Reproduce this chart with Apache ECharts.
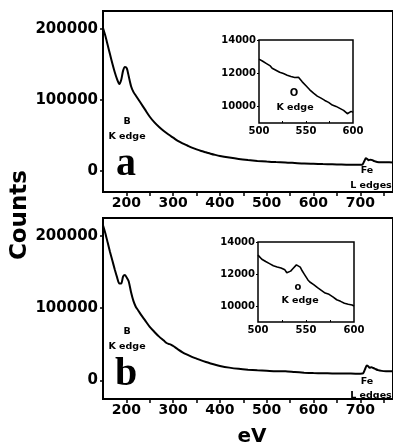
<!DOCTYPE html>
<html>
<head>
<meta charset="utf-8">
<script src="https://cdn.jsdelivr.net/npm/echarts@6/dist/echarts.min.js"></script>
<style>
  html, body { margin: 0; padding: 0; background: #fff; }
  #chart { width: 393px; height: 448px; }
</style>
</head>
<body>
<div id="chart"></div>
<script>
// panel a, full spectrum
const eVA = [150, 155, 160, 165, 170, 175, 180, 185, 189, 193, 197, 201, 205, 210, 215, 220, 225, 230, 240, 250, 260, 270, 280, 290, 300, 310, 320, 330, 340, 350, 360, 370, 380, 390, 400, 420, 440, 460, 480, 500, 520, 540, 560, 580, 600, 620, 640, 660, 680, 700, 705, 709, 712, 715, 718, 722, 726, 730, 736, 745, 755, 770];
const countsA = [201000, 190000, 177000, 164000, 151000, 139000, 129000, 122000, 128000, 141000, 146000, 144000, 133000, 119000, 111000, 106000, 101000, 96000, 86000, 76000, 68000, 61500, 56000, 51000, 46500, 42000, 38500, 35500, 32500, 30000, 27800, 25900, 24000, 22300, 20800, 18500, 16500, 15000, 13800, 12800, 12100, 11700, 10900, 10100, 9700, 9300, 9000, 8700, 8400, 8300, 8800, 14000, 17500, 16500, 14800, 15600, 15000, 13400, 12400, 11900, 11800, 11700];

// panel b, full spectrum
const eVB = [150, 155, 160, 165, 170, 175, 180, 185, 189, 193, 197, 201, 205, 210, 215, 220, 225, 230, 240, 250, 260, 270, 280, 285, 290, 295, 300, 310, 320, 330, 340, 350, 360, 370, 380, 390, 400, 420, 440, 460, 480, 500, 520, 540, 560, 580, 600, 620, 640, 660, 680, 700, 706, 710, 714, 717, 720, 724, 728, 732, 738, 746, 755, 770];
const countsB = [215000, 204000, 191000, 178000, 166000, 154000, 143000, 134000, 134000, 144000, 146000, 142000, 137000, 122000, 110000, 102000, 97000, 92000, 83000, 74000, 67000, 60500, 55000, 52000, 50500, 49500, 47500, 43000, 38800, 35500, 32500, 30000, 27500, 25300, 23300, 21400, 19800, 17500, 15800, 14600, 13700, 13100, 12400, 12500, 11300, 10500, 10000, 9700, 9500, 9300, 9200, 9100, 9500, 15000, 20500, 19500, 17500, 18000, 17000, 15800, 14000, 13000, 12600, 12400];

// insets, O K edge region
const eVInset = [500, 502, 504, 506, 508, 510, 512, 514, 516, 518, 520, 522, 524, 526, 528, 530, 532, 534, 536, 538, 540, 542, 544, 546, 548, 550, 552, 554, 556, 558, 560, 562, 564, 566, 568, 570, 572, 574, 576, 578, 580, 582, 584, 586, 588, 590, 592, 594, 596, 598, 600];
const insetA = [12850, 12760, 12720, 12600, 12580, 12460, 12440, 12300, 12280, 12180, 12200, 12060, 12060, 11980, 11990, 11880, 11840, 11800, 11810, 11740, 11840, 11760, 11620, 11480, 11420, 11240, 11170, 11000, 10970, 10800, 10760, 10620, 10620, 10500, 10440, 10360, 10320, 10240, 10200, 10080, 10080, 10000, 10000, 9880, 9860, 9760, 9640, 9560, 9660, 9700, 9640];
const insetB = [13180, 13080, 12920, 12820, 12780, 12680, 12650, 12540, 12520, 12420, 12440, 12360, 12370, 12320, 12260, 12080, 12110, 12180, 12310, 12420, 12570, 12510, 12430, 12200, 12010, 11820, 11630, 11500, 11450, 11340, 11270, 11150, 11100, 10980, 10920, 10810, 10800, 10730, 10720, 10570, 10500, 10390, 10360, 10290, 10240, 10170, 10160, 10110, 10100, 10060, 10000];

const mainTicks = [200, 250, 300, 350, 400, 450, 500, 550, 600, 650, 700, 750];
const mainLabels = [200, 300, 400, 500, 600, 700];
const yLabels = [0, 100000, 200000];
const insetXLabels = [500, 550, 600];
const insetXTicks = [525, 550, 575];
const insetYLabels = [10000, 12000, 14000];

const pairs = (xs, ys) => xs.map((x, i) => [x, ys[i]]);
const plain = (v) => String(v);

const font = "DejaVu Sans";
const mainX = (gridIndex) => ({
  type: "value", gridIndex, min: 150, max: 770,
  splitLine: { show: false },
  axisLine: { show: false, onZero: false },
  axisTick: { show: true, length: 4, customValues: mainTicks, lineStyle: { color: "#000", width: 1.5 } },
  axisLabel: { customValues: mainLabels, formatter: plain, color: "#000", fontFamily: font, fontWeight: "bold", fontSize: 14, margin: 4 },
});
const mainY = (gridIndex, min) => ({
  type: "value", gridIndex, min, max: 225000,
  splitLine: { show: false },
  axisLine: { show: false, onZero: false },
  axisTick: { show: true, length: 3, customValues: yLabels, lineStyle: { color: "#000", width: 1.5 } },
  axisLabel: { customValues: yLabels, formatter: plain, color: "#000", fontFamily: font, fontWeight: "bold", fontSize: 15, margin: 5 },
});
const insetX = (gridIndex) => ({
  type: "value", gridIndex, min: 500, max: 600,
  splitLine: { show: false },
  axisLine: { show: false, onZero: false },
  axisTick: { show: true, inside: true, length: 2, customValues: insetXTicks, lineStyle: { color: "#000" } },
  axisLabel: { customValues: insetXLabels, formatter: plain, color: "#000", fontFamily: font, fontWeight: "bold", fontSize: 10, margin: 3 },
});
const insetY = (gridIndex) => ({
  type: "value", gridIndex, min: 9000, max: 14000,
  splitLine: { show: false },
  axisLine: { show: false, onZero: false },
  axisTick: { show: true, length: 2, customValues: insetYLabels, lineStyle: { color: "#000" } },
  axisLabel: { customValues: insetYLabels, formatter: plain, color: "#000", fontFamily: font, fontWeight: "bold", fontSize: 10, margin: 3 },
});
const line = (idx, data, width, smooth) => ({
  type: "line", xAxisIndex: idx, yAxisIndex: idx, data, showSymbol: false,
  smooth, silent: true, lineStyle: { color: "#000", width },
});
const txt = (x, y, text, size, extra) => ({
  type: "text", x, y, silent: true,
  style: Object.assign({ text, fill: "#000", font: "bold " + size + "px '" + font + "'", align: "center", verticalAlign: "middle" }, extra || {}),
});

const frame = { show: true, borderColor: "#000", borderWidth: 2, backgroundColor: "transparent" };

const option = {
  backgroundColor: "#fff",
  animation: false,
  grid: [
    Object.assign({ left: 103, top: 11, right: -7, height: 181 }, frame),
    Object.assign({ left: 259, top: 40, width: 94, height: 83 }, frame, { borderWidth: 1.5 }),
    Object.assign({ left: 103, top: 218, right: -7, height: 181 }, frame),
    Object.assign({ left: 258, top: 242, width: 96, height: 80 }, frame, { borderWidth: 1.5 }),
  ],
  xAxis: [mainX(0), insetX(1), mainX(2), insetX(3)],
  yAxis: [mainY(0, -30000), insetY(1), mainY(2, -26000), insetY(3)],
  series: [
    line(0, pairs(eVA, countsA), 2, 0.25),
    line(1, pairs(eVInset, insetA), 1.6, false),
    line(2, pairs(eVB, countsB), 2, 0.25),
    line(3, pairs(eVInset, insetB), 1.6, false),
  ],
  graphic: [
    txt(127, 122, "B", 9.5),
    txt(127, 137, "K edge", 9.5),
    txt(126, 165, "a", 40, { font: "bold 40px 'Liberation Serif'" }),
    txt(294, 93, "O", 10),
    txt(295, 108, "K edge", 9.5),
    txt(367, 171, "Fe", 9.5),
    txt(371, 186, "L edges", 9.5),
    txt(127, 332, "B", 9.5),
    txt(127, 347, "K edge", 9.5),
    txt(126, 375, "b", 40, { font: "bold 40px 'Liberation Serif'" }),
    txt(298, 287, "o", 10),
    txt(300, 301, "K edge", 9.5),
    txt(367, 382, "Fe", 9.5),
    txt(371, 396, "L edges", 9.5),
    { type: "text", x: 20, y: 215, rotation: Math.PI / 2, silent: true,
      style: { text: "Counts", fill: "#000", font: "bold 23px '" + font + "'", align: "center", verticalAlign: "middle" } },
    txt(252, 437, "eV", 20),
  ],
};

const chart = echarts.init(document.getElementById("chart"), null, { renderer: "canvas" });
chart.setOption(option);
</script>
</body>
</html>
